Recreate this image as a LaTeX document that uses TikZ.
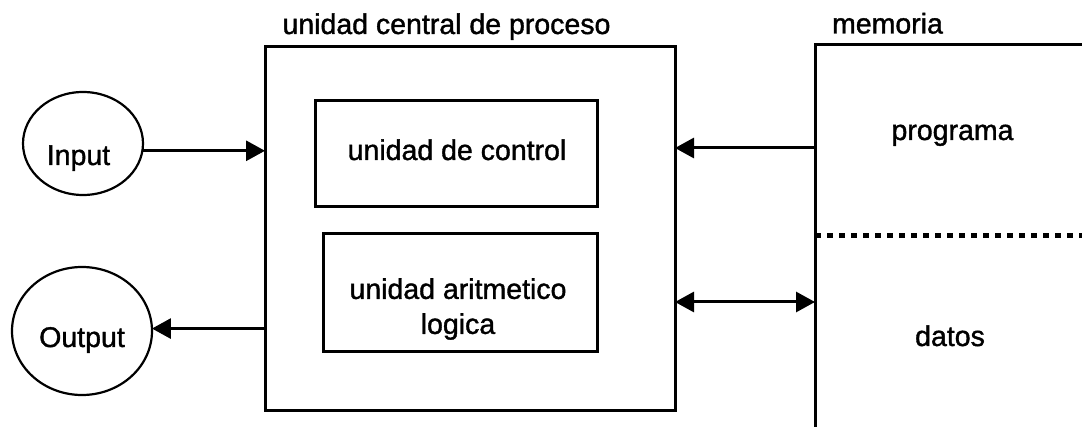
\documentclass[tikz,border=0pt]{standalone}
\usepackage{fontspec}
\setmainfont{Liberation Sans}[FakeBold=1.3]
\usetikzlibrary{arrows.meta,shapes.geometric}
\begin{document}
\begin{tikzpicture}[x=1pt,y=-1pt,
  box/.style={draw, rectangle, line width=3pt, inner sep=0pt, outer sep=0pt},
  oval/.style={draw, ellipse, line width=2.2pt, inner sep=0pt, outer sep=0pt},
  lbl/.style={anchor=base, inner sep=0pt, font=\fontsize{28.5}{35}\selectfont},
  arr/.style={line width=3pt, -{Triangle[length=19pt,width=20pt]}},
  arrb/.style={line width=3pt, {Triangle[length=19pt,width=20pt]}-{Triangle[length=19pt,width=20pt]}},
  dotline/.style={line width=5pt, dash pattern=on 6pt off 6pt}]
\useasboundingbox (0,0) rectangle (1082,427);
\clip (0,0) rectangle (1082,427);
% boxes
\node[box, minimum width=410pt, minimum height=364pt] (cpu) at (470,229) {};
\node[box, minimum width=282pt, minimum height=106pt] (ctl) at (456,154) {};
\node[box, minimum width=274pt, minimum height=118pt] (alu) at (460,293) {};
\node[box, minimum width=300pt, minimum height=400pt] (mem) at (965,245) {};
% ellipses
\node[oval, minimum width=120pt, minimum height=103pt] (in) at (83,143.5) {};
\node[oval, minimum width=140pt, minimum height=128pt] (out) at (82,331) {};
% labels
\node[lbl] (lcpu) at (446.5,34) {unidad central de proceso};
\node[lbl] (lmem) at (887.5,33.5) {memoria};
\node[lbl] (lctl) at (457,160) {unidad de control};
\node[lbl, anchor=center, align=center] (lalu) at (458,309) {unidad aritmetico\\logica};
\node[lbl] (lin) at (78.5,165) {Input};
\node[lbl] (lout) at (82,347) {Output};
\node[lbl] (lprog) at (952.5,140) {programa};
\node[lbl] (ldat) at (950,346) {datos};
% memory divider
\coordinate (dl) at (815,236);
\draw[dotline] (dl) -- (dl -| mem.east);
% connectors
\coordinate (mp) at (815,148);
\coordinate (md) at (815,302);
\draw[arr] (in.-7) -- (in.-7 -| cpu.west);
\draw[arr] (cpu.west |- out.2) -- (out.2);
\draw[arr] (mp) -- (mp -| cpu.east);
\draw[arrb] (md -| cpu.east) -- (md);
\end{tikzpicture}
\end{document}
